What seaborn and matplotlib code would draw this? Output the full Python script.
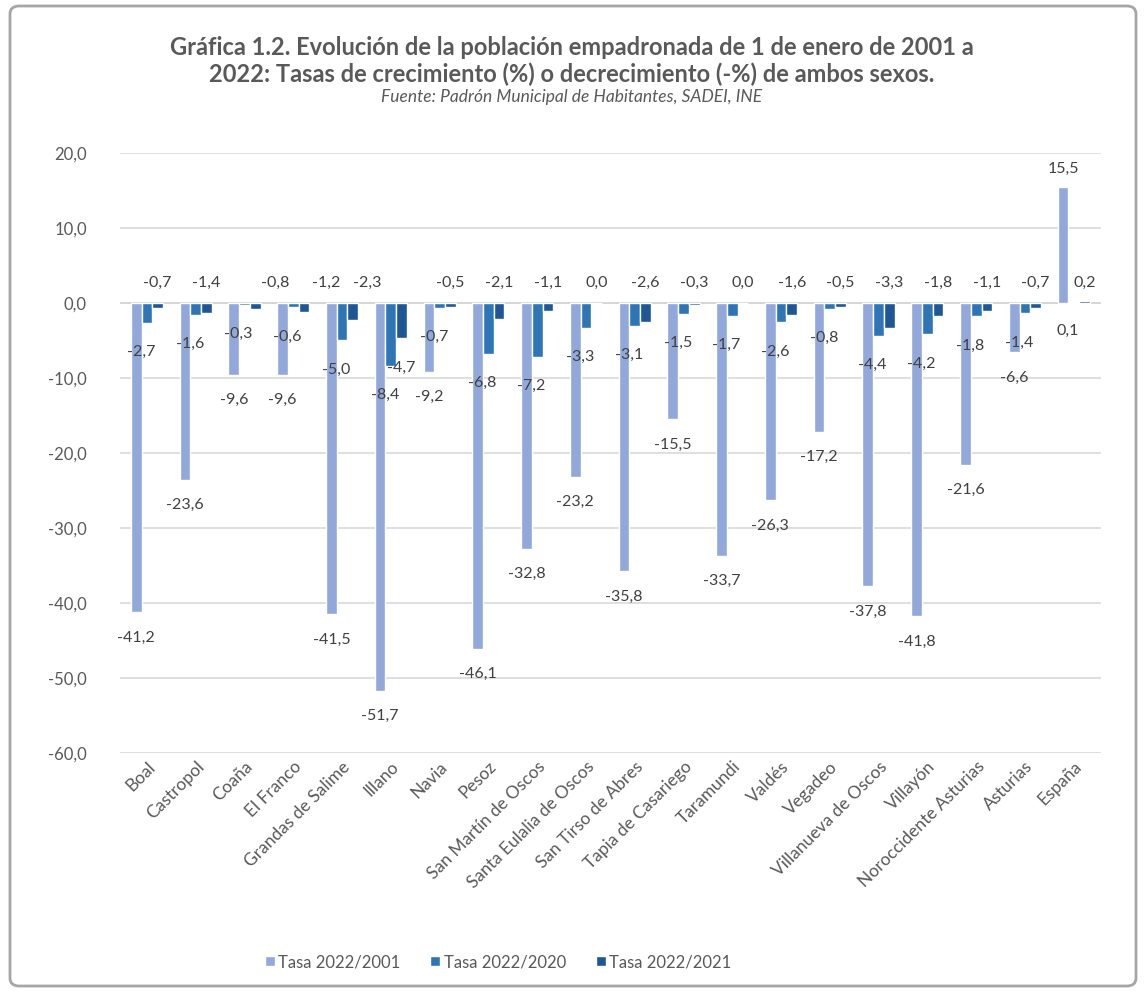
#!/usr/bin/env python3
"""Gráfica 1.2 — tasas de crecimiento de la población empadronada."""

import matplotlib.pyplot as plt
import pandas as pd
import seaborn as sns
from matplotlib.patches import FancyBboxPatch
from matplotlib.ticker import FuncFormatter, MultipleLocator

CONCEJOS = [
    "Boal", "Castropol", "Coaña", "El Franco", "Grandas de Salime", "Illano",
    "Navia", "Pesoz", "San Martín de Oscos", "Santa Eulalia de Oscos",
    "San Tirso de Abres", "Tapia de Casariego", "Taramundi", "Valdés",
    "Vegadeo", "Villanueva de Oscos", "Villayón", "Noroccidente Asturias",
    "Asturias", "España",
]
TASA_2001 = [-41.2, -23.6, -9.6, -9.6, -41.5, -51.7, -9.2, -46.1, -32.8, -23.2,
             -35.8, -15.5, -33.7, -26.3, -17.2, -37.8, -41.8, -21.6, -6.6, 15.5]
TASA_2020 = [-2.7, -1.6, -0.3, -0.6, -5.0, -8.4, -0.7, -6.8, -7.2, -3.3,
             -3.1, -1.5, -1.7, -2.6, -0.8, -4.4, -4.2, -1.8, -1.4, 0.1]
TASA_2021 = [-0.7, -1.4, -0.8, -1.2, -2.3, -4.7, -0.5, -2.1, -1.1, 0.0,
             -2.6, -0.3, 0.0, -1.6, -0.5, -3.3, -1.8, -1.1, -0.7, 0.2]
SERIES = ["Tasa 2022/2001", "Tasa 2022/2020", "Tasa 2022/2021"]
COLORES = ["#92A8DA", "#2E75B6", "#1F5796"]

TITULO = ("Gráfica 1.2. Evolución de la población empadronada de 1 de enero de 2001 a\n"
          "2022: Tasas de crecimiento (%) o decrecimiento (-%) de ambos sexos.")
FUENTE = "Fuente: Padrón Municipal de Habitantes, SADEI, INE"

GRIS = "#595959"


def coma(v: float) -> str:
    return f"{v:.1f}".replace(".", ",").replace("-0,0", "0,0")


def main() -> None:
    sns.set_theme(style="whitegrid")
    plt.rcParams["font.family"] = ["Lato", "DejaVu Sans"]

    df = pd.DataFrame({
        "concejo": CONCEJOS * 3,
        "serie": [s for s in SERIES for _ in CONCEJOS],
        "tasa": TASA_2001 + TASA_2020 + TASA_2021,
    })

    fig = plt.figure(figsize=(11.44, 9.92), dpi=100)
    ax = fig.add_axes([0.105, 0.241, 0.857, 0.605])
    sns.barplot(data=df, x="concejo", y="tasa", hue="serie", palette=COLORES,
                width=0.66, saturation=1, ax=ax, legend=True)

    ax.set_ylim(-60, 20)
    ax.yaxis.set_major_locator(MultipleLocator(10))
    ax.yaxis.set_major_formatter(FuncFormatter(lambda v, _: coma(v)))
    ax.set_xlim(-0.55, len(CONCEJOS) - 0.45)
    ax.grid(axis="y", color="#D9D9D9", linewidth=1.2)
    ax.grid(axis="x", visible=False)
    ax.axhline(0, color="#C8C8C8", linewidth=1.2, zorder=0.5)
    for s in ax.spines.values():
        s.set_visible(False)
    ax.set_xlabel("")
    ax.set_ylabel("")
    ax.tick_params(axis="y", labelsize=12, labelcolor=GRIS, pad=24, length=0)
    ax.tick_params(axis="x", labelsize=12.5, labelcolor=GRIS, pad=4, length=0)
    plt.setp(ax.get_xticklabels(), rotation=45, ha="right",
             rotation_mode="anchor")

    # etiquetas de datos
    lab = dict(fontsize=11.5, color="#404040", ha="center", va="center")
    nudge3 = {2: 0.4, 3: 0.45, 4: 0.3}
    for i, bar in enumerate(ax.containers[0]):
        v = TASA_2001[i]
        x = bar.get_x() + bar.get_width() / 2
        ax.text(x, v - 3.4 if v < 0 else v + 2.3, coma(v), **lab)
    for i, bar in enumerate(ax.containers[1]):
        v = TASA_2020[i]
        x = bar.get_x() + bar.get_width() / 2 - 0.12
        ax.text(x, v - 3.9, coma(v), **lab)
    for i, bar in enumerate(ax.containers[2]):
        v = TASA_2021[i]
        x = bar.get_x() + bar.get_width() / 2
        if i == 5:
            ax.text(x, v - 4.0, coma(v), **lab)
        else:
            ax.text(x + nudge3.get(i, 0), 2.6, coma(v), **lab)

    handles, labels = ax.get_legend_handles_labels()
    ax.get_legend().remove()
    fig.legend(handles, labels, loc="center", ncol=3, frameon=False,
               bbox_to_anchor=(498 / 1144, 1 - 962 / 992), fontsize=12,
               handlelength=0.6, handleheight=0.6, columnspacing=1.8,
               handletextpad=0.2, labelcolor=GRIS)

    fig.text(0.5, 1 - 61 / 992, TITULO, ha="center", va="center",
             fontsize=17, fontweight="bold", color=GRIS, linespacing=1.2)
    fig.text(0.5, 1 - 97 / 992, FUENTE, ha="center", va="center",
             fontsize=12.5, style="italic", color=GRIS)

    marco = FancyBboxPatch((10 / 1144, 6 / 992), 1126 / 1144, 980 / 992,
                           boxstyle="round,pad=0,rounding_size=0.008",
                           transform=fig.transFigure, facecolor="none",
                           edgecolor="#A6A6A6", linewidth=2)
    fig.patches.append(marco)

    fig.savefig("out.png", dpi=100)
    plt.close(fig)


if __name__ == "__main__":
    main()
